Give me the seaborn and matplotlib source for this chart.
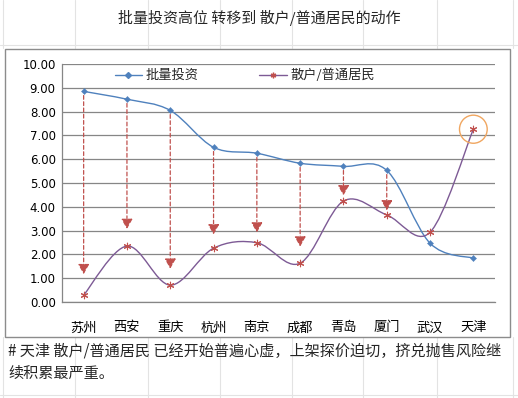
import matplotlib as mpl
import matplotlib.pyplot as plt
import numpy as np
import pandas as pd
import seaborn as sns
from matplotlib.path import Path
from matplotlib.patches import PathPatch, Rectangle, Ellipse
from matplotlib.lines import Line2D

# data
cities = ['苏州', '西安', '重庆', '杭州', '南京', '成都', '青岛', '厦门', '武汉', '天津']
batch = [8.85, 8.52, 8.05, 6.50, 6.25, 5.83, 5.70, 5.53, 2.47, 1.84]
resident = [0.29, 2.35, 0.71, 2.26, 2.49, 1.63, 4.24, 3.66, 2.93, 7.26]
# where the dashed arrows stop (first 8 cities only)
arrow_tip = [1.17, 3.07, 1.40, 2.84, 2.92, 2.33, 4.48, 3.85]

title = '批量投资高位 转移到 散户/普通居民的动作'
note = '# 天津 散户/普通居民 已经开始普遍心虚，上架探价迫切，挤兑抛售风险继\n续积累最严重。'

sns.set_theme(style='white')
plt.rcParams['font.family'] = ['Noto Sans CJK SC', 'DejaVu Sans']

blue = '#4F81BD'
purple = '#7D5A95'
red = '#C0504D'
grey = '#868686'
sheet = '#E3E3E3'


def smooth_path(xs, ys):
    # excel-style smoothed line: catmull-rom turned into cubic bezier segments
    pts = np.column_stack([xs, ys]).astype(float)
    n = len(pts)
    verts = [pts[0]]
    codes = [Path.MOVETO]
    for i in range(n - 1):
        p0 = pts[max(i - 1, 0)]
        p1 = pts[i]
        p2 = pts[i + 1]
        p3 = pts[min(i + 2, n - 1)]
        c1 = p1 + (p2 - p0) / 6.0
        c2 = p2 - (p3 - p1) / 6.0
        verts += [c1, c2, p2]
        codes += [Path.CURVE4] * 3
    return Path(verts, codes)


df = pd.DataFrame({'city': cities, 'pos': np.arange(len(cities)),
                   'batch': batch, 'resident': resident})

fig = plt.figure(figsize=(5.18, 3.98), dpi=100)

# faint spreadsheet cell lines behind the chart object
W, H = 518.0, 398.0
for yy in (45, 395):
    fig.add_artist(Line2D([0, 1], [1 - yy / H] * 2, color=sheet, linewidth=0.8, zorder=-3))
for xx in (3, 75, 148, 220, 292, 363, 437, 513):
    fig.add_artist(Line2D([xx / W] * 2, [1 - 48 / H, 1], color=sheet, linewidth=0.8, zorder=-3))
    fig.add_artist(Line2D([xx / W] * 2, [0, 1 - 337 / H], color=sheet, linewidth=0.8, zorder=-3))

# chart frame like the excel chart object
fig.add_artist(Rectangle((5 / W, 1 - 337 / H), 505 / W, 288 / H,
                         transform=fig.transFigure, facecolor='white',
                         edgecolor='#8C8C8C', linewidth=1.0, zorder=-2))

ax = fig.add_axes([62 / W, 1 - 302 / H, 433 / W, 238 / H])
ax.set_facecolor('none')
ax.set_xlim(-0.5, len(cities) - 0.5)
ax.set_ylim(0, 10)

ax.set_yticks(np.arange(0, 11, 1))
ax.set_yticklabels(['{:.2f}'.format(v) for v in np.arange(0, 11, 1)],
                   fontsize=8.5, family=['DejaVu Sans'])
ax.yaxis.grid(True, color=grey, linewidth=0.9)
ax.set_axisbelow(True)

ax.set_xticks(np.arange(len(cities)))
ax.set_xticklabels(cities, fontsize=9.5)
ax.set_xticks(np.arange(len(cities) + 1) - 0.5, minor=True)
ax.tick_params(axis='x', which='major', length=0, pad=14)
ax.tick_params(axis='x', which='minor', length=4, width=0.9, color=grey, direction='out')
ax.tick_params(axis='y', length=3, width=0.9, color=grey, direction='out', pad=1.5)
ax.tick_params(labelcolor='#000000')

for s in ['top', 'right']:
    ax.spines[s].set_visible(False)
for s in ['left', 'bottom']:
    ax.spines[s].set_color(grey)
    ax.spines[s].set_linewidth(0.9)

# dashed arrows from the batch level down toward residents
for i, tip in enumerate(arrow_tip):
    ax.annotate('', xy=(i, tip), xytext=(i, batch[i]),
                arrowprops=dict(arrowstyle='-|>,head_length=0.5,head_width=0.28',
                                color=red, linewidth=0.9, linestyle=(0, (3, 2)),
                                shrinkA=3, shrinkB=0))

# smoothed lines
ax.add_patch(PathPatch(smooth_path(df['pos'], df['batch']), fill=False,
                       edgecolor=blue, linewidth=1.0, zorder=3))
ax.add_patch(PathPatch(smooth_path(df['pos'], df['resident']), fill=False,
                       edgecolor=purple, linewidth=1.0, zorder=3))

sns.scatterplot(data=df, x='pos', y='batch', ax=ax, marker='D', s=10,
                color=blue, edgecolor=blue, zorder=4, legend=False)
sns.scatterplot(data=df, x='pos', y='resident', ax=ax, marker=(6, 2, 0), s=22,
                color=red, edgecolor=red, linewidth=0.8, zorder=4, legend=False)
ax.set_xlabel('')
ax.set_ylabel('')

# highlight circle around tianjin
last = len(cities) - 1
ax.add_patch(Ellipse((last, resident[last]), 0.64, 1.18, fill=False,
                     edgecolor='#F0A660', linewidth=1.0, zorder=5))

handles = [Line2D([], [], color=blue, marker='D', markersize=3, linewidth=1.0),
           Line2D([], [], color=purple, marker=(6, 2, 0), markersize=4,
                  markeredgecolor=red, linewidth=1.0)]
ax.legend(handles, ['批量投资', '散户/普通居民'], ncol=2, frameon=False,
          loc='upper left', bbox_to_anchor=(0.094, 1.03), fontsize=9.5,
          handlelength=2.1, columnspacing=4.6, handletextpad=0.25)

fig.text(0.5, 1 - 18 / H, title, ha='center', va='center', fontsize=10.8)
fig.text(8 / W, 1 - 343 / H, note, ha='left', va='top', fontsize=10.9,
         linespacing=1.4)

fig.savefig('out.png', dpi=100)
